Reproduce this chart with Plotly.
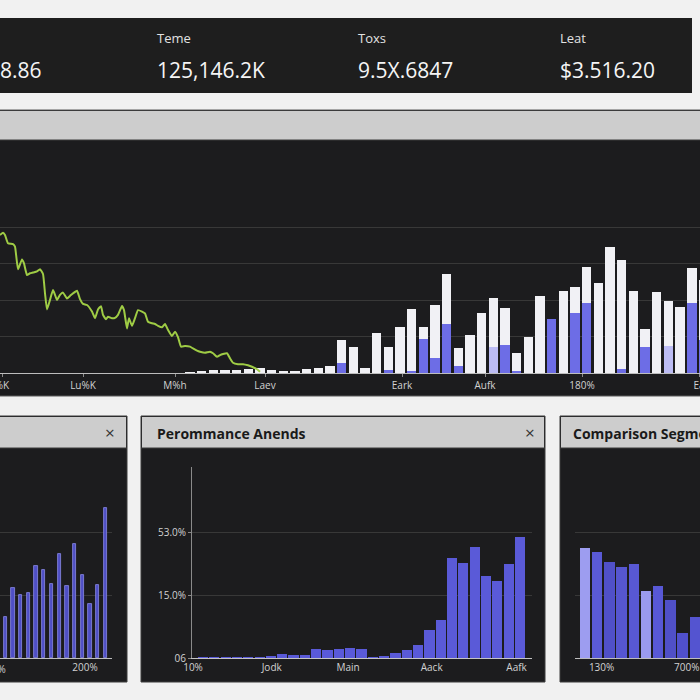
import plotly.graph_objects as go

# ---------------- data ----------------
kpi_labels = ["", "Teme", "Toxs", "Leat"]
kpi_values = ["8.86", "125,146.2K", "9.5X.6847", "$3.516.20"]

main_slots = list(range(45))
main_total = [0.04, 0.07, 0.08, 0.09, 0.10, 0.12, 0.14, 0.09, 0.07, 0.05,
              0.11, 0.15, 0.21, 0.91, 0.71, 0.14, 1.10, 0.73, 1.28, 1.75,
              1.28, 1.86, 2.72, 0.68, 1.06, 1.64, 2.07, 1.78, 0.55, 1.00,
              2.12, 1.48, 2.25, 2.36, 2.90, 2.47, 3.45, 3.10, 2.25, 1.22,
              2.23, 1.98, 1.81, 2.88, 2.56]
main_blue = [0, 0, 0, 0, 0, 0, 0, 0, 0, 0,
             0, 0, 0, 0.27, 0, 0, 0, 0.09, 0, 0.05,
             0.95, 0.41, 1.35, 0.21, 0, 0, 0, 0.78, 0.06, 0,
             0, 1.48, 0, 1.66, 1.92, 0, 0, 0.11, 0, 0.71,
             0, 0, 0, 1.92, 0.91]
main_light = [0] * 26 + [0.71] + [0] * 14 + [0.75] + [0] * 3

line_t = [0, 3, 5, 8, 13, 15, 18, 22, 24, 27, 30, 33, 37, 40, 43, 45, 47, 50, 53, 55,
          57, 60, 63, 67, 70, 73, 77, 80, 83, 87, 92, 95, 98, 101, 103, 106, 108, 112, 115, 118,
          122, 124, 127, 129, 132, 135, 138, 142, 145, 148, 152, 155, 158, 162, 165, 168, 172, 175, 178, 181,
          185, 190, 193, 197, 200, 205, 210, 213, 217, 220, 223, 227, 230, 233, 238, 243, 248, 252, 257, 260]
line_v = [3.79, 3.85, 3.79, 3.56, 3.54, 3.47, 2.85, 3.12, 3.01, 2.69, 2.74, 2.76, 2.79, 2.85, 2.72, 2.19, 1.75, 2.01, 2.28, 2.15,
          2.01, 2.15, 2.21, 2.05, 2.12, 2.19, 2.26, 2.03, 1.90, 1.87, 1.69, 1.51, 1.75, 1.84, 1.60, 1.48, 1.55, 1.51, 1.52, 1.60,
          1.84, 1.73, 1.23, 1.51, 1.30, 1.51, 1.73, 1.69, 1.64, 1.41, 1.37, 1.35, 1.30, 1.26, 1.35, 1.19, 1.02, 1.14, 0.99, 0.73,
          0.75, 0.73, 0.68, 0.62, 0.59, 0.56, 0.59, 0.55, 0.45, 0.50, 0.53, 0.55, 0.41, 0.29, 0.25, 0.25, 0.22, 0.18, 0.11, 0.04]
main_tick_pos = [2, 83, 175, 265, 402, 485, 582, 699]
main_tick_text = ["%K", "Lu%K", "M%h", "Laev", "Eark", "Aufk", "180%", "Ea"]

p1_slots = list(range(14))
p1_values = [9.8, 16.8, 15.1, 15.6, 21.9, 20.9, 17.6, 24.8, 17.1, 27.1, 19.7, 12.9, 17.4, 35.7]
p1_tick_pos = [10.35]
p1_tick_text = ["200%"]

p2_title = "Perommance Anends"
p2_slots = list(range(29))
p2_values = [0.24, 0.31, 0.31, 0.31, 0.40, 0.40, 0.64, 0.95, 0.79, 0.71,
             2.14, 2.07, 2.14, 2.38, 2.14, 0.24, 0.55, 1.36, 1.98, 3.17,
             6.74, 9.12, 23.8, 22.6, 26.4, 19.5, 18.4, 22.4, 28.8]
p2_tick_pos = [-0.88, 6.07, 12.81, 20.2, 27.7]
p2_tick_text = ["10%", "Jodk", "Main", "Aack", "Aafk"]
p2_y_ticks = [0, 15, 30]
p2_y_text = ["06", "15.0%", "53.0%"]

p3_title = "Comparison Segments"
p3_slots = list(range(10))
p3_values = [26.2, 25.4, 22.9, 21.7, 22.4, 15.9, 17.1, 13.9, 6.0, 9.8]
p3_tick_pos = [1.36, 8.34]
p3_tick_text = ["130%", "700%"]

# ---------------- styles ----------------
W = H = 700.0
def px(x):
    return x / W
def py(y):
    return 1 - y / H

BG = "#f1f1f1"
DARK = "#1c1c1e"
HEAD = "#cdcdcd"
TICKC = "#d2d2d2"
GRID = "#383838"
FONT = "Open Sans"

p3_colors = ["#9d9df0", "#5a5ad6", "#5050c8", "#5656d0", "#5858d4",
             "#9a9aee", "#5858d6", "#5050c8", "#5050cc", "#5454d0"]

fig = go.Figure()
fig.add_trace(go.Bar(x=main_slots, y=main_total, width=0.8, marker=dict(color="#f1f1f5", line=dict(width=0)),
                     xaxis="x", yaxis="y"))
fig.add_trace(go.Bar(x=main_slots, y=main_blue, width=0.8, marker=dict(color="#6d6de6", line=dict(width=0)),
                     xaxis="x", yaxis="y"))
fig.add_trace(go.Bar(x=main_slots, y=main_light, width=0.8, marker=dict(color="#bcbcf4", line=dict(width=0)),
                     xaxis="x", yaxis="y"))
fig.add_trace(go.Scatter(x=line_t, y=line_v, mode="lines", line=dict(color="#9fcc45", width=2, shape="spline", smoothing=0.4),
                         xaxis="x2", yaxis="y"))
fig.add_trace(go.Bar(x=p1_slots, y=p1_values, width=0.42,
                     marker=dict(color="#4f4fc6", line=dict(color="#8a8ae6", width=0.8)),
                     xaxis="x3", yaxis="y3"))
fig.add_trace(go.Bar(x=p2_slots, y=p2_values, width=0.9,
                     marker=dict(color="#5a5ad8", line=dict(width=0)),
                     xaxis="x4", yaxis="y4"))
fig.add_trace(go.Bar(x=p3_slots, y=p3_values, width=0.86,
                     marker=dict(color=p3_colors, line=dict(width=0)),
                     xaxis="x5", yaxis="y5"))

shapes = []
def rect(x0, y0, x1, y1, fill, line=None, lw=0):
    shapes.append(dict(type="rect", xref="paper", yref="paper", x0=px(x0), x1=px(x1), y0=py(y1), y1=py(y0),
                       fillcolor=fill, line=dict(color=line or fill, width=lw), layer="below"))
def hline(x0, x1, y, color, w=1):
    shapes.append(dict(type="line", xref="paper", yref="paper", x0=px(x0), x1=px(x1), y0=py(y), y1=py(y),
                       line=dict(color=color, width=w), layer="below"))

rect(-10, 18, 692, 93, "#1e1e1e")
rect(-10, 110, 710, 396, DARK, "#5a5a5a", 1)
rect(-10, 111, 710, 140, HEAD)
hline(-10, 710, 140, "#3a3a3a", 1)
for x0, x1 in [(-10, 127), (141, 545), (560, 710)]:
    rect(x0, 416, x1, 682, DARK, "#3c3c3c", 1)
    rect(x0 + 1, 417, x1 - 1, 448, HEAD)
    hline(x0, x1, 448, "#3a3a3a", 1)

ann = []
kx = [-2, 155, 356, 558]
for i in range(4):
    if kpi_labels[i]:
        ann.append(dict(x=px(kx[i]), y=py(38), xref="paper", yref="paper", text=kpi_labels[i],
                        xanchor="left", yanchor="middle", showarrow=False,
                        font=dict(family=FONT, size=13, color="#e2e2e2")))
    ann.append(dict(x=px(kx[i]), y=py(70), xref="paper", yref="paper", text=kpi_values[i],
                    xanchor="left", yanchor="middle", showarrow=False,
                    font=dict(family=FONT, size=21, color="#f5f5f5")))
ann.append(dict(x=px(155), y=py(433), xref="paper", yref="paper", text="<b>" + p2_title + "</b>",
                xanchor="left", yanchor="middle", showarrow=False, font=dict(family=FONT, size=14, color="#1a1a1a")))
ann.append(dict(x=px(571), y=py(433), xref="paper", yref="paper", text="<b>" + p3_title + "</b>",
                xanchor="left", yanchor="middle", showarrow=False, font=dict(family=FONT, size=14, color="#1a1a1a")))
for xx in [110, 530]:
    ann.append(dict(x=px(xx), y=py(432), xref="paper", yref="paper", text="×",
                    xanchor="center", yanchor="middle", showarrow=False, font=dict(family=FONT, size=17, color="#333333")))
ann.append(dict(x=px(8), y=py(669), xref="paper", yref="paper", text="10%",
                xanchor="right", yanchor="middle", showarrow=False, font=dict(family=FONT, size=10, color=TICKC)))

tickfont = dict(family=FONT, size=10, color=TICKC)
bottom_y = [py(658.3), py(467)]

fig.update_layout(
    width=700, height=700, autosize=False,
    margin=dict(l=0, r=0, t=0, b=0, autoexpand=False),
    paper_bgcolor=BG, plot_bgcolor="rgba(0,0,0,0)",
    showlegend=False, barmode="overlay", bargap=0,
    shapes=shapes, annotations=ann,
    xaxis=dict(domain=[0, 1], range=[-16.28, 43.7], visible=False, fixedrange=True, automargin=False),
    xaxis2=dict(domain=[0, 1], range=[0, 700], overlaying="x", anchor="y", side="bottom", automargin=False,
                showgrid=False, zeroline=False, showline=True, linecolor="#bdbdbd", linewidth=1,
                ticks="outside", ticklen=3, tickcolor="#8a8a8a", ticklabeloverflow="allow",
                tickvals=main_tick_pos, ticktext=main_tick_text, tickfont=tickfont),
    yaxis=dict(domain=[py(373.3), py(140)], range=[0, 6.39], anchor="x", automargin=False,
               tickvals=[1, 2, 3, 4], showticklabels=False, gridcolor=GRID, gridwidth=1,
               zeroline=False, showline=False),
    xaxis3=dict(domain=[0, px(112)], range=[-0.69, 13.86], anchor="y3", automargin=False,
                showgrid=False, zeroline=False, showline=True, linecolor="#bdbdbd",
                tickvals=p1_tick_pos, ticktext=p1_tick_text, tickfont=tickfont, ticks=""),
    yaxis3=dict(domain=bottom_y, range=[0, 45.5], anchor="x3", automargin=False,
                tickvals=[15, 30], showticklabels=False, gridcolor=GRID, zeroline=False, showline=False),
    xaxis4=dict(domain=[px(192), px(532)], range=[-0.97, 29.06], anchor="y4", automargin=False,
                showgrid=False, zeroline=False, showline=True, linecolor="#c4c4c4",
                tickvals=p2_tick_pos, ticktext=p2_tick_text, tickfont=tickfont, ticks=""),
    yaxis4=dict(domain=bottom_y, range=[0, 45.5], anchor="x4", automargin=False,
                tickvals=p2_y_ticks, ticktext=p2_y_text, tickfont=tickfont,
                gridcolor=GRID, zeroline=False, showline=True, linecolor="#8a8a8a",
                ticks="outside", ticklen=3, tickcolor="#8a8a8a"),
    xaxis5=dict(domain=[px(575), 1], range=[-0.82, 9.43], anchor="y5", automargin=False,
                showgrid=False, zeroline=False, showline=True, linecolor="#bdbdbd",
                tickvals=p3_tick_pos, ticktext=p3_tick_text, tickfont=tickfont, ticks=""),
    yaxis5=dict(domain=bottom_y, range=[0, 45.5], anchor="x5", automargin=False,
                tickvals=[15, 30], showticklabels=False, gridcolor=GRID, zeroline=False, showline=False),
)

fig.write_html("out.html", config={"displayModeBar": False},
               post_script="document.documentElement.style.margin='0';document.body.style.margin='0';"
                           "document.documentElement.style.overflow='hidden';document.body.style.overflow='hidden';")
